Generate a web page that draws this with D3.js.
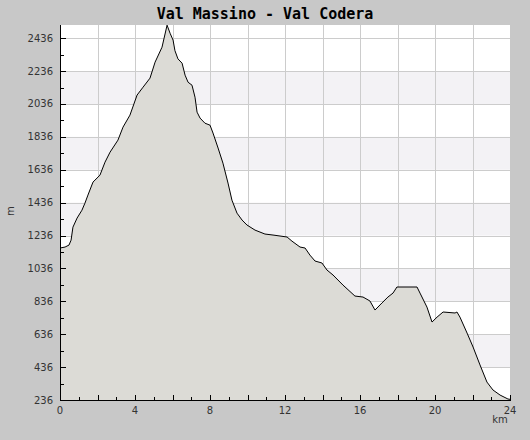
<!DOCTYPE html>
<html><head><meta charset="utf-8">
<script src="https://cdn.jsdelivr.net/npm/d3@7"></script>
<style>
html,body{margin:0;padding:0;background:#c8c8c8;}
svg{display:block;}
</style></head>
<body>
<script>
const title = "Val Massino - Val Codera";
const distanceKm = [0,0.27,0.48,0.59,0.69,0.91,1.17,1.33,1.49,1.76,2.13,2.4,2.67,3.09,3.36,3.73,4.11,4.43,4.8,5.07,5.44,5.71,5.87,6.03,6.13,6.29,6.51,6.67,6.83,7.04,7.2,7.31,7.47,7.73,8.0,8.16,8.43,8.69,8.96,9.17,9.44,9.71,9.97,10.4,10.93,11.36,12.11,12.37,12.8,13.07,13.33,13.6,13.97,14.24,14.56,15.09,15.73,16.16,16.53,16.8,17.17,17.49,17.76,17.97,19.04,19.2,19.57,19.84,20.11,20.43,21.07,21.17,21.33,21.71,22.03,22.4,22.77,23.09,23.47,23.89,24];
const elevationM = [1160,1166,1178,1208,1287,1342,1390,1433,1482,1561,1603,1682,1743,1816,1895,1968,2090,2138,2193,2290,2381,2515,2466,2424,2360,2310,2284,2211,2168,2150,2077,1986,1950,1919,1907,1859,1768,1676,1555,1451,1372,1330,1300,1269,1245,1239,1227,1202,1166,1160,1117,1081,1069,1026,996,935,868,862,838,783,826,862,886,923,923,886,801,710,740,771,765,771,740,643,558,449,345,297,266,242,240];
const yTicks = [236,436,636,836,1036,1236,1436,1636,1836,2036,2236,2436];
const xTicks = [0,4,8,12,16,20,24];
const bands = [[436,636],[836,1036],[1236,1436],[1636,1836],[2036,2236]];

const W = 530, H = 440;
const m = {left:60, right:20, top:25, bottom:40};
const svg = d3.select("body").append("svg").attr("width",W).attr("height",H);
svg.append("rect").attr("width",W).attr("height",H).attr("fill","#c8c8c8");

const x = d3.scaleLinear().domain([0,24]).range([m.left, W-m.right]);
const y = d3.scaleLinear().domain([236,2516]).range([H-m.bottom, m.top]);

const g = svg.append("g");
g.append("rect").attr("x",x(0)).attr("y",y(2516)).attr("width",x(24)-x(0)).attr("height",y(236)-y(2516)).attr("fill","#ffffff");
g.selectAll(".band").data(bands).enter().append("rect")
  .attr("x",x(0)).attr("width",x(24)-x(0))
  .attr("y",d=>y(d[1])).attr("height",d=>y(d[0])-y(d[1]))
  .attr("fill","#f3f2f5");
g.selectAll(".hg").data(yTicks.slice(1)).enter().append("line")
  .attr("x1",x(0)).attr("x2",x(24)).attr("y1",d=>Math.round(y(d))+0.5).attr("y2",d=>Math.round(y(d))+0.5)
  .attr("stroke","#cccccc").attr("stroke-width",1);
g.selectAll(".vg").data(d3.range(2,24,2)).enter().append("line")
  .attr("y1",y(236)).attr("y2",y(2516)).attr("x1",d=>Math.round(x(d))+0.5).attr("x2",d=>Math.round(x(d))+0.5)
  .attr("stroke","#cccccc").attr("stroke-width",1);

const data = distanceKm.map((d,i)=>({k:d,e:elevationM[i]}));
g.append("path").datum(data)
  .attr("d", d3.area().x(d=>x(d.k)).y0(y(236)).y1(d=>y(d.e)))
  .attr("fill","#dcdbd6");
g.append("path").datum(data)
  .attr("d", d3.line().x(d=>x(d.k)).y(d=>y(d.e)))
  .attr("fill","none").attr("stroke","#000").attr("stroke-width",1);

const ya = svg.append("g").attr("transform",`translate(${x(0)},0)`);
ya.append("line").attr("x1",0.5).attr("x2",0.5).attr("y1",y(2516)).attr("y2",y(236)).attr("stroke","#000");
ya.selectAll(".yt").data(d3.range(236,2517,100)).enter().append("line")
  .attr("x1",0).attr("x2",d=>((d-236)%200===0)?6:4)
  .attr("y1",d=>Math.round(y(d))+0.5).attr("y2",d=>Math.round(y(d))+0.5).attr("stroke","#000");
ya.selectAll(".yl").data(yTicks).enter().append("text")
  .attr("x",-7).attr("y",d=>y(d)+3.5).attr("text-anchor","end")
  .attr("font-family","DejaVu Sans").attr("font-size",10).attr("fill","#333")
  .text(d=>d);

const xa = svg.append("g").attr("transform",`translate(0,${y(236)})`);
xa.append("line").attr("x1",x(0)).attr("x2",x(24)+1).attr("y1",0.5).attr("y2",0.5).attr("stroke","#000");
xa.selectAll(".xt").data(d3.range(1,25,1)).enter().append("line")
  .attr("x1",d=>Math.round(x(d))+0.5).attr("x2",d=>Math.round(x(d))+0.5)
  .attr("y1",0).attr("y2",d=>d%2===0?-5:-3).attr("stroke","#000");
xa.selectAll(".xl").data(xTicks).enter().append("text")
  .attr("x",d=>x(d)).attr("y",14).attr("text-anchor","middle")
  .attr("font-family","DejaVu Sans").attr("font-size",10).attr("fill","#333")
  .text(d=>d);

svg.append("text").attr("x",500).attr("y",423).attr("text-anchor","middle")
  .attr("font-family","DejaVu Sans").attr("font-size",10).attr("fill","#333").text("km");
svg.append("text").attr("transform",`translate(14,211) rotate(-90)`).attr("text-anchor","middle")
  .attr("font-family","DejaVu Sans").attr("font-size",10).attr("fill","#333").text("m");

svg.append("text").attr("x",265).attr("y",19).attr("text-anchor","middle")
  .attr("font-family","DejaVu Sans Mono").attr("font-weight","bold").attr("font-size",15).attr("fill","#000").text(title);
</script>
</body></html>
